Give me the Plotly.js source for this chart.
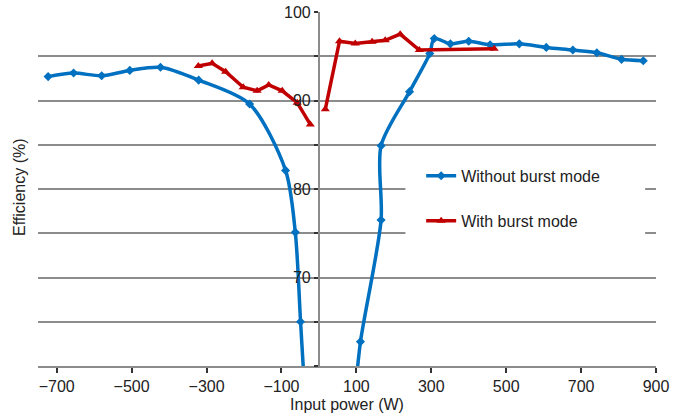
<!DOCTYPE html>
<html>
<head>
<meta charset="utf-8">
<script src="https://cdn.plot.ly/plotly-3.0.1.min.js"></script>
<style>html,body{margin:0;padding:0;background:#fff;}#chart{width:692px;height:417px;}</style>
</head>
<body>
<div id="chart"></div>
<script>
// Without burst mode (two branches separated by null)
const blueX = [-723, -655, -580, -505, -423, -321, -185, -89, -63, -49, -35,
               null,
               97, 111, 166, 166, 242, 296, 308, 351, 400, 457, 535, 607, 678, 742, 808, 866];
const blueY = [92.7, 93.1, 92.8, 93.4, 93.75, 92.3, 89.6, 82.1, 75.1, 65.0, 55,
               null,
               57, 62.75, 76.5, 84.9, 91.0, 95.3, 97.0, 96.4, 96.7, 96.3, 96.4, 96.0, 95.7, 95.4, 94.65, 94.5];
// With burst mode
const redX = [-322, -285, -249, -202, -165, -134, -98, -58, -23,
              null,
              17, 55, 97, 142, 177, 217, 268, 468];
const redY = [93.9, 94.2, 93.25, 91.5, 91.1, 91.75, 91.1, 89.75, 87.3,
              null,
              89.0, 96.7, 96.45, 96.65, 96.8, 97.5, 95.7, 95.85];

const seriesNames = ['Without burst mode', 'With burst mode'];
const xTickVals = [-700, -500, -300, -100, 100, 300, 500, 700, 900];
const yTickVals = [60, 65, 70, 75, 80, 85, 90, 95, 100];
const yTickText = ['', '', '70', '', '80', '', '90', '', '100'];
const xTitle = 'Input power (W)';
const yTitle = 'Efficiency (%)';

const FONT = 'Liberation Sans, Arial, sans-serif';
const GRID = '#8c8c8c';
const FS = 16;

const traces = [
  {
    x: blueX, y: blueY, name: seriesNames[0], type: 'scatter', mode: 'lines+markers',
    line: {color: '#0070C0', width: 3.5, shape: 'spline', smoothing: 0.8},
    marker: {symbol: 'diamond', size: 7, color: '#0070C0'},
    connectgaps: false, legend: 'legend'
  },
  {
    x: redX, y: redY, name: seriesNames[1], type: 'scatter', mode: 'lines+markers',
    line: {color: '#C00000', width: 3.5},
    marker: {symbol: 'triangle-up', size: 8, color: '#C00000'},
    connectgaps: false, legend: 'legend2'
  }
];

const layout = {
  width: 692, height: 417,
  margin: {l: 38, r: 36, t: 12, b: 51},
  paper_bgcolor: '#fff', plot_bgcolor: '#fff',
  font: {family: FONT, size: FS, color: '#222'},
  showlegend: true,
  xaxis: {
    range: [-750, 900], tickvals: xTickVals,
    showgrid: false, zeroline: false,
    showline: true, linecolor: GRID, linewidth: 2,
    ticks: 'outside', ticklen: 5, tickwidth: 2, tickcolor: '#333',
    title: {text: xTitle, font: {size: FS}, standoff: 5}
  },
  yaxis: {
    range: [60, 100], tickvals: yTickVals, ticktext: yTickText,
    anchor: 'free', position: 750 / 1650, side: 'left',
    showgrid: true, gridcolor: GRID, gridwidth: 2,
    zeroline: false, showline: true, linecolor: GRID, linewidth: 2,
    ticks: 'outside', ticklen: 4, tickwidth: 2, tickcolor: '#333'
  },
  legend: {
    x: 0.62, y: 0.537, xanchor: 'left', yanchor: 'middle',
    bgcolor: 'rgba(0,0,0,0)', borderwidth: 0, font: {size: FS}
  },
  legend2: {
    x: 0.62, y: 0.410, xanchor: 'left', yanchor: 'middle',
    bgcolor: 'rgba(0,0,0,0)', borderwidth: 0, font: {size: FS}
  },
  shapes: [{
    type: 'rect', xref: 'x', yref: 'y', x0: 231, x1: 871, y0: 73.7, y1: 83.3,
    fillcolor: '#fff', line: {width: 0}, layer: 'between'
  }],
  annotations: [{
    text: yTitle, xref: 'paper', yref: 'paper', x: -0.029, y: 0.506,
    xanchor: 'center', yanchor: 'middle', textangle: -90, showarrow: false,
    font: {size: FS, color: '#222'}
  }]
};

Plotly.newPlot('chart', traces, layout, {displayModeBar: false, staticPlot: true});
</script>
</body>
</html>
